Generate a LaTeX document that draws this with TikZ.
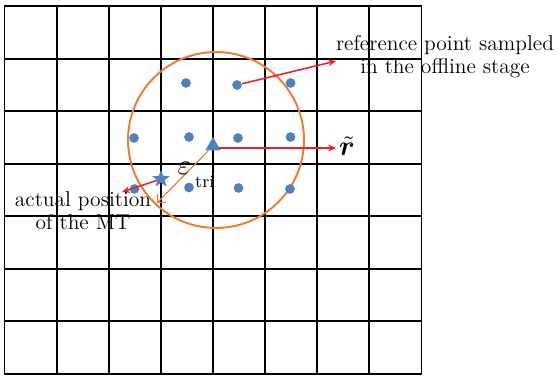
\documentclass[tikz,border=0pt]{standalone}
\usepackage{xcolor}
\usepackage{amsmath}
\usepackage{bm}
\usepackage{tikz}
\usetikzlibrary{arrows.meta,shapes.geometric}
\definecolor{ptblue}{RGB}{79,129,189}
\definecolor{ringorange}{RGB}{237,125,49}
\definecolor{arrowred}{RGB}{240,30,40}
\tikzset{
  refpt/.style={circle,fill=ptblue,inner sep=0pt,minimum size=1.75mm},
  redarrow/.style={arrowred,line width=0.8pt,-{Stealth[length=4pt,width=3.5pt]}},
  lbl/.style={font=\fontsize{11}{11.8}\selectfont,align=center},
}
\begin{document}
\begin{tikzpicture}[x=0.018cm,y=-0.018cm]
\useasboundingbox (0,0) rectangle (558,376);
% grid
\foreach \i in {1,...,7}
  \draw[line width=1pt] (4.5+52.125*\i,6) -- (4.5+52.125*\i,374);
\foreach \j in {1,...,6}
  \draw[line width=1pt] (4.5,6+52.57*\j) -- (421.5,6+52.57*\j);
\draw[line width=1pt] (4.5,6) rectangle (421.5,374);
% ring
\draw[ringorange,line width=1pt] (216,140) circle [radius=1.584cm];
% sampled points
\node[refpt] (p1) at (186,83) {};
\node[refpt] (p2) at (237,85) {};
\node[refpt] (p3) at (290.5,83) {};
\node[refpt] (p4) at (134,138) {};
\node[refpt] (p5) at (189,137) {};
\node[refpt] (p6) at (238,138) {};
\node[refpt] (p7) at (290.5,137) {};
\node[refpt] (p8) at (134.5,189) {};
\node[refpt] (p9) at (189,187.5) {};
\node[refpt] (p10) at (238.5,188) {};
\node[refpt] (p11) at (290,189) {};
\node[star,star points=5,star point ratio=2.4,fill=ptblue,inner sep=0pt,minimum size=3.3mm] (mt) at (161,179) {};
\node[regular polygon,regular polygon sides=3,fill=ptblue,inner sep=0pt,minimum size=3.2mm] (est) at (213,146) {};
% arrow ends
\coordinate (reftip) at (336,61);
\coordinate (rtip) at (336,148);
\coordinate (mttip) at (122,192);
\coordinate (rimpt) at (157,203);
\draw[redarrow] (p2) -- (reftip);
\draw[redarrow] (est.east |- rtip) -- (rtip);
\draw[redarrow] (mt) -- (mttip);
\draw[ringorange,line width=0.6pt,-{Straight Barb[length=3pt]}] (est) -- (rimpt);
% labels
\node[lbl] (reflbl) at (445,57) {reference point sampled\\in the offline stage};
\node (rlbl) at (347,146) {\Large$\tilde{\bm r}$};
\node[lbl] (mtlbl) at (83,211) {actual position\\of the MT};
\node[inner sep=0pt] (epslbl) at (196,175) {\Large$\varepsilon$\,\raisebox{-1.1ex}{\small tri}};
\end{tikzpicture}
\end{document}
